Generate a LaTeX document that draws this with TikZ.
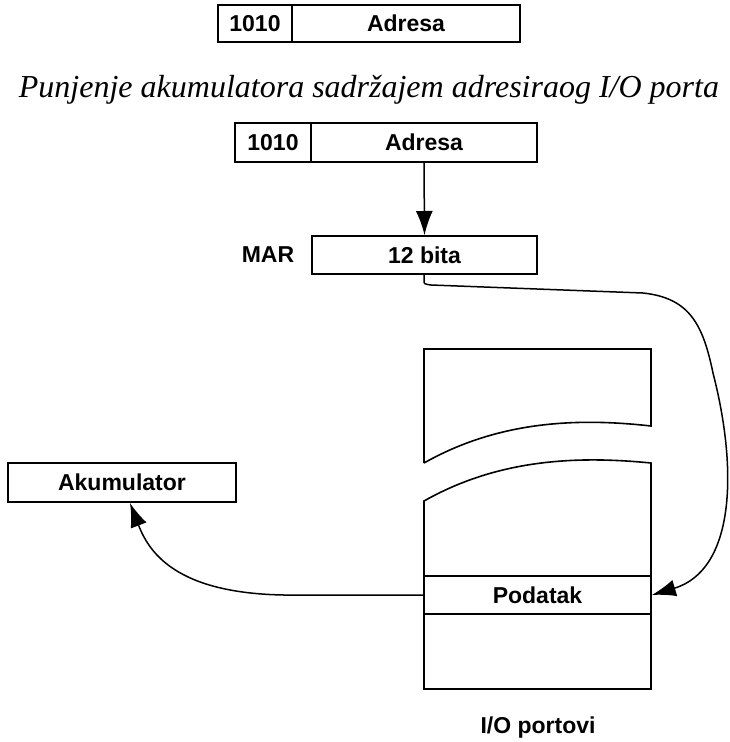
\documentclass[tikz,border=0pt]{standalone}
\usepackage{fontspec}
\setmainfont{Liberation Serif}
\newfontfamily\arialf{Liberation Sans}
\usetikzlibrary{arrows.meta}
\begin{document}
\begin{tikzpicture}[x=1pt,y=-1pt,
  txt/.style={font=\arialf\bfseries\fontsize{23}{26}\selectfont},
  box/.style={draw,line width=2pt,rectangle,inner sep=0pt,txt},
  lbl/.style={txt,inner sep=0pt},
  conn/.style={line width=1.5pt},
  tip/.style={-{Latex[length=24pt,width=17pt]}},
  mem/.style={line width=1.6pt}]
\useasboundingbox (0,0) rectangle (729,742);
% top instruction format
\node[box,minimum width=74pt,minimum height=37pt] (t1010) at (255,23.5) {1010};
\node[box,minimum width=228pt,minimum height=37pt] (tadr) at (406,23.5) {Adresa};
% title
\node[inner sep=0pt,anchor=base,font=\itshape\fontsize{32}{36}\selectfont] (title) at (369,97) {Punjenje akumulatora sadržajem adresiraog I/O porta};
% instruction
\node[box,minimum width=76pt,minimum height=39pt] (b1010) at (273,142.5) {1010};
\node[box,minimum width=226pt,minimum height=39pt] (badr) at (424,142.5) {Adresa};
% MAR
\node[box,minimum width=225pt,minimum height=38pt] (mar) at (424.5,255) {12 bita};
\node[lbl] (marl) at (268,255) {MAR};
% accumulator
\node[box,minimum width=228pt,minimum height=39pt] (akum) at (122,482.5) {Akumulator};
% memory column
\draw[mem] (424,463) -- (424,349) -- (651,349) -- (651,426)
  .. controls (580,418) and (500,420) .. (424,463);
\draw[mem] (424,576) -- (424,501) .. controls (500,458) and (580,456) .. (651,463) -- (651,576);
\draw[mem] (424,614) -- (424,689) -- (651,689) -- (651,614);
\node[draw,mem,rectangle,inner sep=0pt,minimum width=227pt,minimum height=38pt,txt] (pod) at (537.5,595) {Podatak};
\node[lbl,anchor=base] (io) at (538,733) {I/O portovi};
% connectors
\draw[conn,tip] (badr.south) -- (mar.north);
\coordinate (c1) at (424,280);
\coordinate (c2) at (431,285);
\coordinate (c3) at (643,293);
\coordinate (c4) at (713,373);
\draw[conn,tip] (mar.south -| c1) -- (c1) .. controls (424,284) .. (c2) -- (c3)
  .. controls (690,298) and (703,325) .. (c4)
  .. controls (738,470) and (735,570) .. (pod.east);
\coordinate (d1) at (300,595);
\draw[conn,tip] (pod.west) -- (d1) .. controls (180,597) and (150,555) .. (akum.south -| 130,0);
\end{tikzpicture}
\end{document}
